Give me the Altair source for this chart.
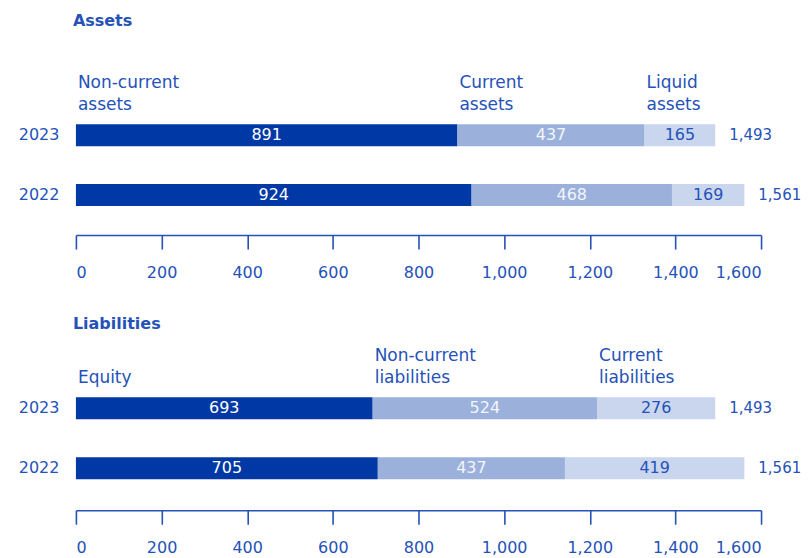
import altair as alt
import pandas as pd

# ---- data ----
years = ["2023", "2022"]
asset_cats = ["Non-current assets", "Current assets", "Liquid assets"]
assets_2023 = [891, 437, 165]
assets_2022 = [924, 468, 169]
liab_cats = ["Equity", "Non-current liabilities", "Current liabilities"]
liab_2023 = [693, 524, 276]
liab_2022 = [705, 437, 419]
totals = [1493, 1561]
x_ticks = [0, 200, 400, 600, 800, 1000, 1200, 1400, 1600]

# ---- style ----
BLUE_TEXT = "#2552b8"
bar_colors = ["#0039a6", "#9bb1dc", "#c9d6ee"]
value_text_colors = ["#ffffff", "#f2f5fb", "#2552b8"]
FONT = "DejaVu Sans"


def frame(cats, v23, v22):
    rows = []
    for yr, vals in zip(years, [v23, v22]):
        s = 0
        for i, (c, v) in enumerate(zip(cats, vals)):
            words = c.split(" ")
            rows.append(dict(year=yr, cat=c, idx=i, value=v, start=s, end=s + v,
                             mid=s + v / 2, tcolor=value_text_colors[i],
                             line1=words[0] if len(words) > 1 else "",
                             line2=words[-1]))
            s += v
    return pd.DataFrame(rows)


def panel(title, cats, v23, v22, title_y, axis_offset):
    df = frame(cats, v23, v22)
    tot = pd.DataFrame({"year": years, "total": totals})
    ttl = pd.DataFrame({"t": [title]})
    xscale = alt.Scale(domain=[0, 1600], nice=False, zero=True)
    yscale = alt.Scale(domain=years, paddingInner=0.6333, paddingOuter=0.3167)
    ycommon = alt.Y("year:N", scale=yscale, sort=years,
                    axis=alt.Axis(title=None, ticks=False, domain=False, labelPadding=17))
    base = alt.Chart(df)
    bars = base.mark_bar().encode(
        x=alt.X("start:Q", scale=xscale,
                axis=alt.Axis(values=x_ticks, format=",.0f", title=None, grid=False,
                              offset=axis_offset, tickSize=14, tickWidth=1.6,
                              domainWidth=1.6, labelPadding=15, labelOverlap=False)),
        x2="end:Q",
        y=ycommon,
        color=alt.Color("cat:N", scale=alt.Scale(domain=cats, range=bar_colors), legend=None),
    )
    vals = base.mark_text(font=FONT, fontSize=16).encode(
        x="mid:Q", y="year:N", text="value:Q",
        color=alt.Color("tcolor:N", scale=None),
    )
    tots = alt.Chart(tot).mark_text(font=FONT, fontSize=15, align="left", dx=14,
                                    color=BLUE_TEXT).encode(
        x="total:Q", y="year:N", text=alt.Text("total:Q", format=","),
    )
    lab = base.transform_filter(alt.datum.year == "2023")
    lab1 = lab.mark_text(font=FONT, fontSize=17, align="left", baseline="alphabetic",
                         dx=2, color=BLUE_TEXT).encode(
        x="start:Q", y=alt.value(-17), text="line1:N")
    lab2 = lab.mark_text(font=FONT, fontSize=17, align="left", baseline="alphabetic",
                         dx=2, color=BLUE_TEXT).encode(
        x="start:Q", y=alt.value(4.3), text="line2:N")
    head = alt.Chart(ttl).mark_text(
        font=FONT, fontSize=16, fontWeight="bold", align="left",
        baseline="alphabetic", color=BLUE_TEXT,
    ).encode(x=alt.value(-3), y=alt.value(title_y), text="t:N")
    return alt.layer(bars, vals, tots, lab1, lab2, head).properties(width=686, height=120)


top = panel("Assets", asset_cats, assets_2023, assets_2022, -79, 10)
bottom = panel("Liabilities", liab_cats, liab_2023, liab_2022, -49.5, 12)

chart = alt.vconcat(top, bottom, spacing=35.5).properties(
    padding={"left": 10, "top": 5, "right": 0, "bottom": 0}
).configure_axis(
    labelFont=FONT, labelFontSize=16, labelColor=BLUE_TEXT,
    domainColor=BLUE_TEXT, tickColor=BLUE_TEXT,
).configure_view(stroke=None)

chart.save("out.html", embed_options={"renderer": "svg", "actions": False})
